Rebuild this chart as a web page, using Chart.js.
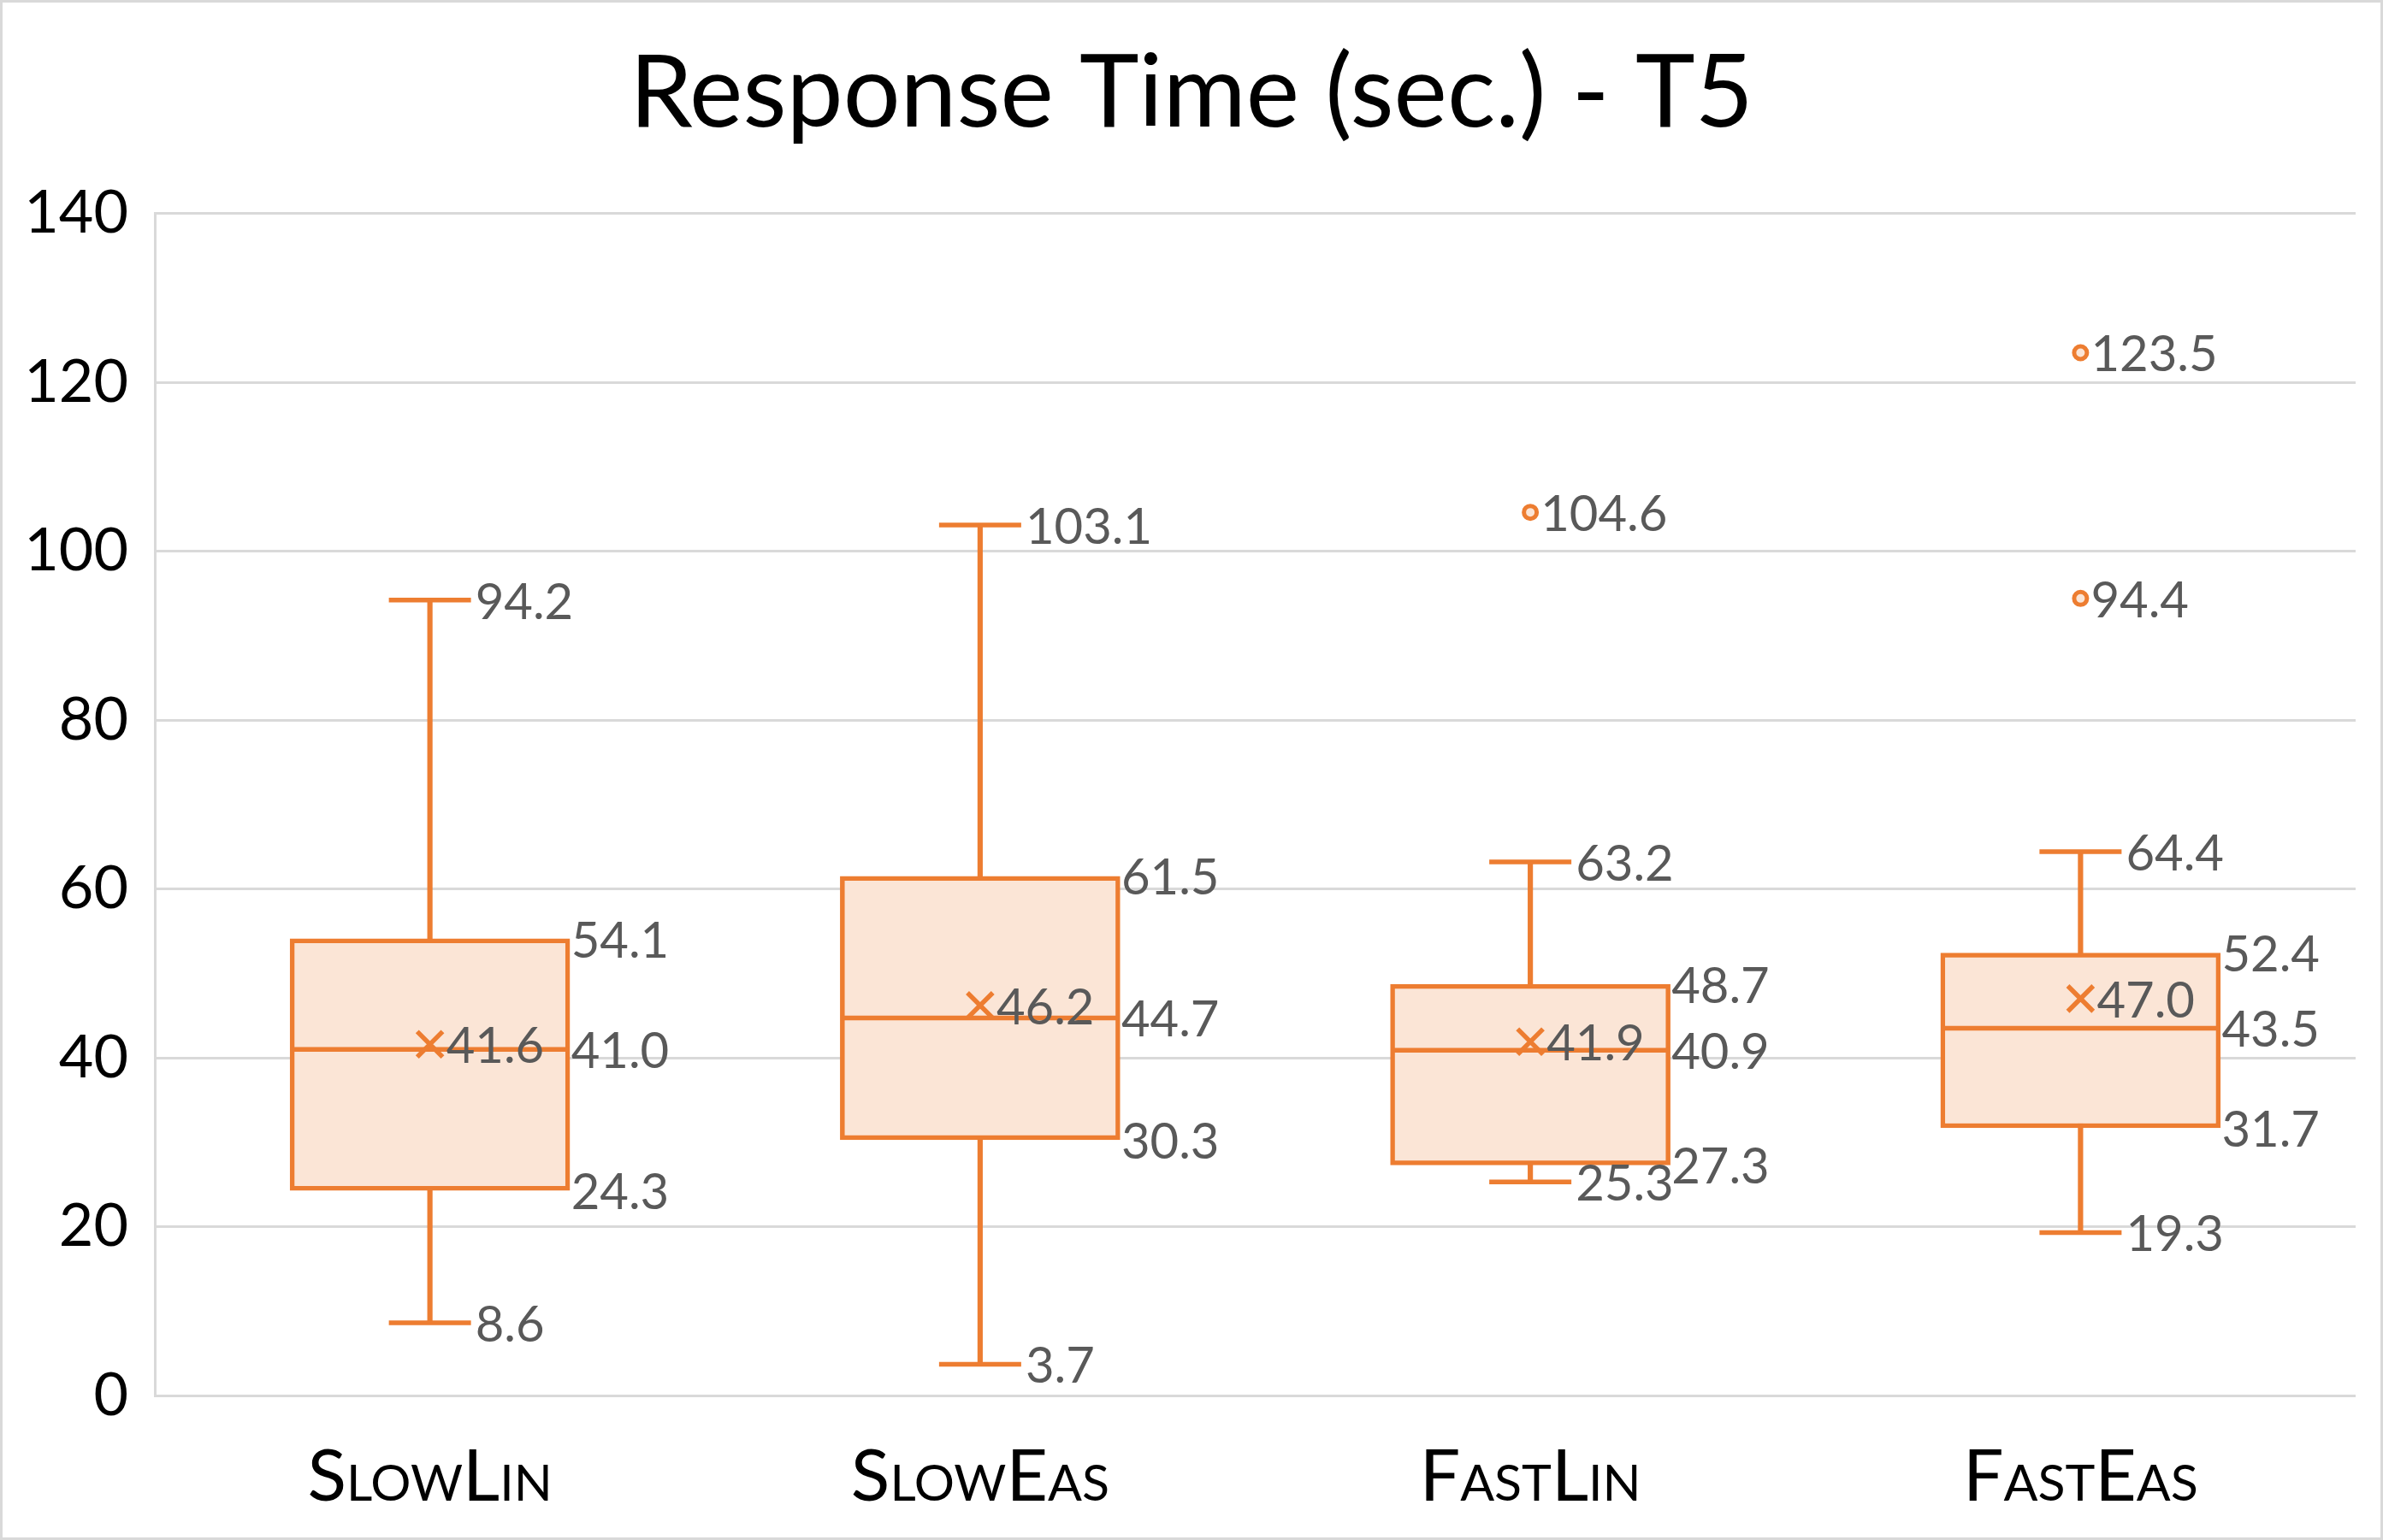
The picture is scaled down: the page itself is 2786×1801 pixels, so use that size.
<!DOCTYPE html>
<html>
<head>
<meta charset="utf-8">
<title>Response Time (sec.) - T5</title>
<script src="https://cdn.jsdelivr.net/npm/chart.js@4.4.1/dist/chart.umd.min.js"></script>
<style>
  html, body { margin: 0; padding: 0; background: #fff; }
  #wrap { width: 2786px; height: 1801px; }
</style>
</head>
<body>
<div id="wrap"><canvas id="chart"></canvas></div>
<script>
// box plot values
const categories = ['SlowLin', 'SlowEas', 'FastLin', 'FastEas'];
const minVals    = [8.6, 3.7, 25.3, 19.3];
const q1Vals     = [24.3, 30.3, 27.3, 31.7];
const medianVals = [41.0, 44.7, 40.9, 43.5];
const q3Vals     = [54.1, 61.5, 48.7, 52.4];
const maxVals    = [94.2, 103.1, 63.2, 64.4];
const meanVals   = [41.6, 46.2, 41.9, 47.0];
const outlierCats = ['FastLin', 'FastEas', 'FastEas'];
const outlierVals = [104.6, 123.5, 94.4];
const yTicks = [0, 20, 40, 60, 80, 100, 120, 140];

const orange = '#ED7D31';
const boxFill = '#FBE5D6';
const labelGrey = '#595959';

// white background + thin grey frame round the whole chart
const frame = {
    id: 'frame',
    beforeDraw(chart) {
        const c = chart.ctx;
        c.save();
        c.fillStyle = '#fff';
        c.fillRect(0, 0, chart.width, chart.height);
        c.restore();
    },
    afterDraw(chart) {
        const c = chart.ctx;
        c.save();
        c.strokeStyle = '#d9d9d9';
        c.lineWidth = 3;
        c.strokeRect(1.5, 1.5, chart.width - 3, chart.height - 3);
        c.restore();
    }
};

// data labels next to whiskers, box edges, mean and outliers
const valueLabels = {
    id: 'valueLabels',
    afterDatasetsDraw(chart) {
        const c = chart.ctx;
        const xs = chart.scales.x, ys = chart.scales.y;
        const put = (v, x) => c.fillText(v.toFixed(1), x, ys.getPixelForValue(v) + 3);
        c.save();
        c.font = '58px Lato';
        c.fillStyle = labelGrey;
        c.textAlign = 'left';
        c.textBaseline = 'middle';
        categories.forEach((cat, i) => {
            const x = xs.getPixelForValue(i);
            put(maxVals[i], x + 53);
            put(minVals[i], x + 53);
            put(q3Vals[i], x + 165);
            put(medianVals[i], x + 165);
            put(q1Vals[i], x + 165);
            put(meanVals[i], x + 19);
        });
        outlierVals.forEach((v, i) => {
            const x = xs.getPixelForValue(categories.indexOf(outlierCats[i]));
            put(v, x + 12);
        });
        c.restore();
    }
};

const ctx = document.getElementById('chart').getContext('2d');
const chart = new Chart(ctx, {
    data: {
        labels: categories,
        datasets: [
            {
                // whisker stem, min to max (box covers the middle)
                type: 'bar',
                data: categories.map((c, i) => [minVals[i], maxVals[i]]),
                backgroundColor: orange,
                borderWidth: 0,
                barThickness: 5.5,
                grouped: false,
                order: 5
            },
            {
                type: 'bar',
                data: categories.map((c, i) => [q1Vals[i], q3Vals[i]]),
                backgroundColor: boxFill,
                borderColor: orange,
                borderWidth: 5.5,
                borderSkipped: false,
                barThickness: 327,
                grouped: false,
                order: 4
            },
            {
                // median line
                type: 'line',
                data: medianVals,
                showLine: false,
                pointStyle: 'line',
                pointRadius: 163,
                pointBorderWidth: 5.5,
                pointBorderColor: orange,
                order: 3
            },
            {
                // whisker caps
                type: 'line',
                data: maxVals,
                showLine: false,
                pointStyle: 'line',
                pointRadius: 48,
                pointBorderWidth: 5.5,
                pointBorderColor: orange,
                order: 2
            },
            {
                type: 'line',
                data: minVals,
                showLine: false,
                pointStyle: 'line',
                pointRadius: 48,
                pointBorderWidth: 5.5,
                pointBorderColor: orange,
                order: 2
            },
            {
                // mean marker
                type: 'line',
                data: meanVals,
                showLine: false,
                pointStyle: 'crossRot',
                pointRadius: 21,
                pointBorderWidth: 5.5,
                pointBorderColor: orange,
                order: 1
            },
            {
                type: 'line',
                data: outlierVals.map((v, i) => ({ x: outlierCats[i], y: v })),
                showLine: false,
                pointStyle: 'circle',
                pointRadius: 7.5,
                pointBorderWidth: 5,
                pointBorderColor: orange,
                pointBackgroundColor: boxFill,
                order: 1
            }
        ]
    },
    options: {
        responsive: true,
        maintainAspectRatio: false,
        devicePixelRatio: 1,
        animation: false,
        events: [],
        layout: { padding: 0, autoPadding: false },
        plugins: {
            legend: { display: false },
            tooltip: { enabled: false },
            title: {
                display: true,
                text: 'Response Time (sec.) - T5',
                color: '#000',
                font: { family: 'Lato', size: 118, weight: 'normal' },
                padding: { top: 39, bottom: 69 }
            }
        },
        scales: {
            x: {
                type: 'category',
                offset: true,
                grid: { display: false },
                border: { display: false },
                ticks: {
                    color: '#000',
                    padding: 38,
                    font: { family: 'Lato', size: 84, weight: 'small-caps' }
                },
                afterFit: (s) => {
                    s.height = 169;
                    s.paddingLeft = 0;
                    s.paddingRight = 32;
                }
            },
            y: {
                min: 0,
                max: 140,
                afterBuildTicks: (s) => { s.ticks = yTicks.map(v => ({ value: v })); },
                grid: { color: '#d9d9d9', lineWidth: 3, drawTicks: false },
                border: { display: true, color: '#d9d9d9', width: 3 },
                ticks: {
                    color: '#000',
                    padding: 31,
                    font: { family: 'Lato', size: 70 }
                },
                afterFit: (s) => { s.width = 181; }
            }
        }
    },
    plugins: [frame, valueLabels]
});
</script>
</body>
</html>
